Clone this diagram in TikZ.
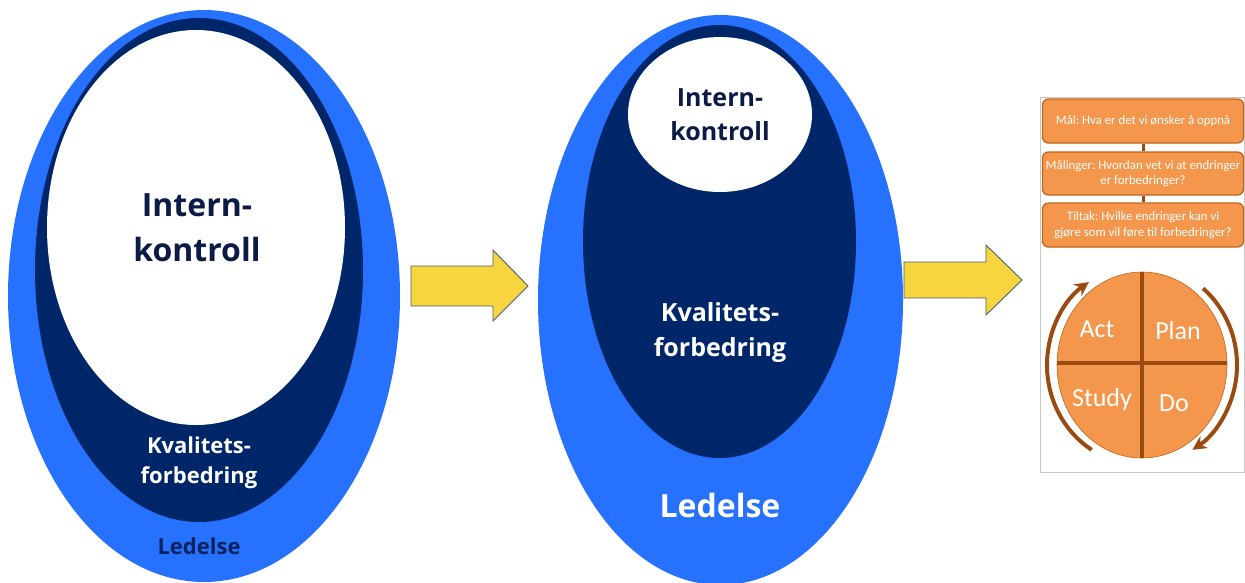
\documentclass[tikz,border=0pt]{standalone}
\usepackage{fontspec}
\usetikzlibrary{arrows.meta,calc}
\newfontfamily\osfont{Open Sans}
\newfontfamily\carlfont{Carlito}
\definecolor{lblue}{HTML}{2672FE}
\definecolor{navy}{HTML}{00266A}
\definecolor{inknavy}{HTML}{0B1B45}
\definecolor{ledink}{HTML}{0A2260}
\definecolor{yarrow}{HTML}{F6D53F}
\definecolor{yedge}{HTML}{4F5E70}
\definecolor{ofill}{HTML}{F4974C}
\definecolor{oedge}{HTML}{C0651E}
\definecolor{brown}{HTML}{9A4B12}
\definecolor{framegray}{HTML}{C8C8C8}
\frenchspacing
\tikzset{
  lbl/.style={align=center, inner sep=0pt, font=\osfont\bfseries},
  blockarrow/.style={fill=yarrow, draw=yedge, line width=0.9pt, line join=miter},
  pbox/.style={draw=oedge, fill=ofill, line width=1.3pt, rounded corners=6pt,
    minimum width=201pt, align=center, inner sep=0pt,
    font=\carlfont\fontsize{12.8}{15.5}\selectfont, text=white},
  plink/.style={draw=brown, line width=3pt},
  cross/.style={draw=brown, line width=3.5pt},
  cyc/.style={draw=brown, line width=4pt, -{Stealth[length=14pt,width=14pt]}},
  plbl/.style={inner sep=0pt, text=white, font=\carlfont\fontsize{26}{30}\selectfont}
}
\begin{document}
\begin{tikzpicture}[x=1pt,y=-1pt]
\useasboundingbox (0,0) rectangle (1245,582);
% ---------- left panel ----------
\begin{scope}
\clip (0,0) rectangle (1245,582);
\fill[lblue] (204,296) ellipse [x radius=196, y radius=286];
\fill[navy] (199,270) ellipse [x radius=164, y radius=252];
\fill[white] (196,227.5) ellipse [x radius=149, y radius=197.5];
% ---------- middle panel ----------
\fill[lblue] (720.5,300) ellipse [x radius=182.5, y radius=285];
\fill[navy] (719.5,241.5) ellipse [x radius=136.5, y radius=216.5];
\fill[white] (720,114.5) ellipse [x radius=92, y radius=77.5];
\end{scope}
\node[lbl, text=inknavy, font=\osfont\bfseries\fontsize{32}{45}\selectfont] (ik1) at (197,228) {Intern-\\kontroll};
\node[lbl, text=white, font=\osfont\bfseries\fontsize{22}{30}\selectfont] (kf1) at (199,463) {Kvalitets-\\forbedring};
\node[lbl, text=ledink, font=\osfont\bfseries\fontsize{22}{26}\selectfont] (le1) at (199,546) {Ledelse};
\node[lbl, text=inknavy, font=\osfont\bfseries\fontsize{25}{34}\selectfont] (ik2) at (720,115) {Intern-\\kontroll};
\node[lbl, text=white, font=\osfont\bfseries\fontsize{25}{35}\selectfont] (kf2) at (720,332) {Kvalitets-\\forbedring};
\node[lbl, text=white, font=\osfont\bfseries\fontsize{32}{38}\selectfont] (le2) at (720,505) {Ledelse};
% ---------- block arrows ----------
\draw[blockarrow] (411,266) -- (493,266) -- (493,250) -- (528,286) -- (493,321) -- (493,306) -- (411,306) -- cycle;
\draw[blockarrow] (904,262) -- (986,262) -- (986,245) -- (1022,280) -- (986,315) -- (986,298) -- (904,298) -- cycle;
% ---------- right panel ----------
\draw[framegray, line width=1pt] (1040.5,97.5) rectangle (1244.5,472);
\node[pbox, minimum height=44pt] (b1) at (1143,121) {Mål: Hva er det vi ønsker å oppnå};
\node[pbox, minimum height=43pt] (b2) at (1143,173.5) {Målinger: Hvordan vet vi at endringer\\er forbedringer?};
\node[pbox, minimum height=44pt] (b3) at (1143,225) {Tiltak: Hvilke endringer kan vi\\gjøre som vil føre til forbedringer?};
\draw[plink] (b1.south) -- (b2.north);
\draw[plink] (b2.south) -- (b3.north);
\coordinate (pc) at (1142,365);
\fill[ofill] (pc) ellipse [x radius=85, y radius=93];
\draw[draw=oedge, line width=0.6pt] (pc) ellipse [x radius=85, y radius=93];
\coordinate (vt) at (1142,272);
\coordinate (vb) at (1142,458);
\coordinate (hl) at (1057,363);
\coordinate (hr) at (1227,363);
\draw[cross] (vt) -- (vb);
\draw[cross] (hl) -- (hr);
\node[plbl] (act) at (1097,329) {Act};
\node[plbl] (plan) at (1178,331) {Plan};
\node[plbl] (study) at (1102,400) {Study};
\node[plbl] (do) at (1174,403) {Do};
\draw[cyc] ([shift={(122:95 and 100)}]pc) arc [start angle=122, end angle=236, x radius=95, y radius=100];
\draw[cyc] ([shift={(-50:95 and 100)}]pc) arc [start angle=-50, end angle=58, x radius=95, y radius=100];
\end{tikzpicture}
\end{document}
